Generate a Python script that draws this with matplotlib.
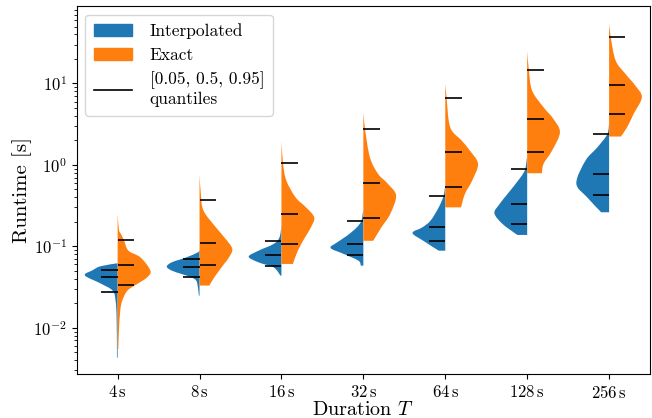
import numpy as np
import matplotlib
matplotlib.use("Agg")
import matplotlib.pyplot as plt
from matplotlib.patches import Patch, PathPatch
from matplotlib.path import Path
from matplotlib.lines import Line2D

plt.rcParams["font.family"] = ["cmr10", "DejaVu Serif"]
plt.rcParams["mathtext.fontset"] = "cm"
plt.rcParams["axes.formatter.use_mathtext"] = True
plt.rcParams["axes.unicode_minus"] = False

durations = ["4", "8", "16", "32", "64", "128", "256"]

# 0.05 / 0.5 / 0.95 quantiles of the runtime [s]
interp_q = [
    [0.0277, 0.042, 0.0517],
    [0.0417, 0.0552, 0.070],
    [0.058, 0.078, 0.117],
    [0.079, 0.107, 0.207],
    [0.115, 0.171, 0.42],
    [0.186, 0.328, 0.893],
    [0.423, 0.767, 2.4],
]
exact_q = [
    [0.0332, 0.059, 0.121],
    [0.059, 0.109, 0.371],
    [0.107, 0.25, 1.05],
    [0.223, 0.594, 2.77],
    [0.53, 1.42, 6.71],
    [1.42, 3.67, 14.8],
    [4.27, 9.6, 37.0],
]

# violin outlines: (runtime [s], relative density width)
interp_shape = [
    [(0.062, 0.0), (0.057, 0.52), (0.051, 0.76), (0.044, 1.0), (0.035, 0.52), (0.0285, 0.15),
     (0.021, 0.06), (0.0126, 0.03), (0.0043, 0.02)],
    [(0.09, 0.0), (0.0844, 0.05), (0.0733, 0.4), (0.0636, 0.85), (0.0563, 1.0), (0.0504, 0.85),
     (0.0458, 0.55), (0.0416, 0.25), (0.0379, 0.1), (0.0314, 0.05), (0.0248, 0.02)],
    [(0.18, 0.0), (0.129, 0.06), (0.107, 0.24), (0.0885, 0.7), (0.0747, 1.0), (0.0636, 0.7),
     (0.0552, 0.24), (0.0437, 0.03)],
    [(0.288, 0.0), (0.207, 0.06), (0.171, 0.2), (0.135, 0.5), (0.112, 0.8), (0.0955, 1.0),
     (0.0807, 0.6), (0.0667, 0.15), (0.058, 0.08)],
    [(0.585, 0.0), (0.42, 0.05), (0.301, 0.2), (0.207, 0.45), (0.171, 0.7), (0.146, 1.0),
     (0.117, 0.67), (0.0885, 0.2)],
    [(1.3, 0.0), (0.893, 0.06), (0.705, 0.2), (0.44, 0.6), (0.328, 0.85), (0.255, 1.0),
     (0.188, 0.75), (0.138, 0.3)],
    [(3.34, 0.0), (2.4, 0.05), (1.64, 0.36), (1.13, 0.72), (0.594, 1.0), (0.4, 0.67),
     (0.262, 0.24)],
]
exact_shape = [
    [(0.25, 0.0), (0.16, 0.04), (0.142, 0.1), (0.117, 0.2), (0.0885, 0.33), (0.073, 0.7),
     (0.0504, 1.0), (0.0416, 0.9), (0.0345, 0.6), (0.0286, 0.3), (0.0215, 0.14),
     (0.0162, 0.08), (0.0092, 0.04), (0.0055, 0.02)],
    [(0.76, 0.0), (0.44, 0.04), (0.275, 0.12), (0.171, 0.5), (0.123, 0.8), (0.0929, 1.0),
     (0.0733, 0.9), (0.0608, 0.75), (0.0416, 0.45), (0.033, 0.3)],
    [(1.95, 0.0), (1.03, 0.05), (0.641, 0.15), (0.4, 0.43), (0.301, 0.75), (0.227, 1.0),
     (0.171, 0.9), (0.129, 0.72), (0.0885, 0.5), (0.0608, 0.35)],
    [(4.43, 0.0), (2.77, 0.05), (1.24, 0.2), (0.775, 0.45), (0.585, 0.75), (0.42, 1.0),
     (0.25, 0.82), (0.171, 0.55), (0.117, 0.3)],
    [(9.9, 0.0), (6.7, 0.04), (2.9, 0.15), (1.99, 0.5), (1.5, 0.75), (1.03, 1.0),
     (0.641, 0.82), (0.44, 0.6), (0.301, 0.48)],
    [(24.9, 0.0), (14.8, 0.05), (8.18, 0.15), (5.1, 0.5), (3.67, 0.8), (2.51, 1.0),
     (1.5, 0.76), (1.03, 0.5), (0.79, 0.45)],
    [(55.0, 0.0), (37.0, 0.05), (19.1, 0.2), (13.1, 0.5), (9.42, 0.8), (6.77, 1.0),
     (4.23, 0.75), (2.9, 0.55), (2.23, 0.36)],
]

blue = "#1f77b4"
orange = "#ff7f0e"
half_width = 0.4


def half_violin(center, shape, side):
    # smooth outline through the read points (cubic bezier, tangents in log space)
    y, w = np.array(shape).T
    ly = np.log10(y)
    pts = np.column_stack([w, ly])
    n = len(pts)
    verts = [(center, y[0]), (center + side * w[0] * half_width, y[0])]
    codes = [Path.MOVETO, Path.LINETO]
    for k in range(n - 1):
        p_prev = pts[max(k - 1, 0)]
        p_next = pts[min(k + 2, n - 1)]
        c1 = pts[k] + (pts[k + 1] - p_prev) / 6
        c2 = pts[k + 1] - (p_next - pts[k]) / 6
        for c in (c1, c2, pts[k + 1]):
            verts.append((center + side * max(c[0], 0) * half_width, 10 ** c[1]))
            codes.append(Path.CURVE4)
    verts += [(center, y[-1]), (center, y[0])]
    codes += [Path.LINETO, Path.CLOSEPOLY]
    return Path(verts, codes)


fig = plt.figure(figsize=(6.52, 4.18), dpi=100)
ax = fig.add_axes([0.1176, 0.105, 0.8794, 0.881])

for i in range(len(durations)):
    ax.add_patch(PathPatch(half_violin(i, interp_shape[i], -1), facecolor=blue, lw=0))
    ax.add_patch(PathPatch(half_violin(i, exact_shape[i], 1), facecolor=orange, lw=0))
    for q in interp_q[i]:
        ax.hlines(q, i - 0.2, i, color="k", lw=1.2)
    for q in exact_q[i]:
        ax.hlines(q, i, i + 0.2, color="k", lw=1.2)

ax.set_yscale("log")
ax.set_ylim(0.0027, 89.7)
ax.set_xlim(-0.5, 6.5)
ax.set_xticks(range(len(durations)))
ax.set_xticklabels([r"$%s\,\mathrm{s}$" % d for d in durations])
ax.tick_params(labelsize=12)
ax.set_xlabel(r"Duration $T$", fontsize=14.5, labelpad=0)
ax.set_ylabel("Runtime [s]", fontsize=15, labelpad=1)

handles = [Patch(color=blue), Patch(color=orange), Line2D([], [], color="k", lw=1.2)]
ax.legend(handles, ["Interpolated", "Exact", "[0.05, 0.5, 0.95]\nquantiles"],
          loc="upper left", fontsize=12.5, handlelength=2.2, handletextpad=1.0,
          borderpad=0.5)

fig.savefig("out.png")
